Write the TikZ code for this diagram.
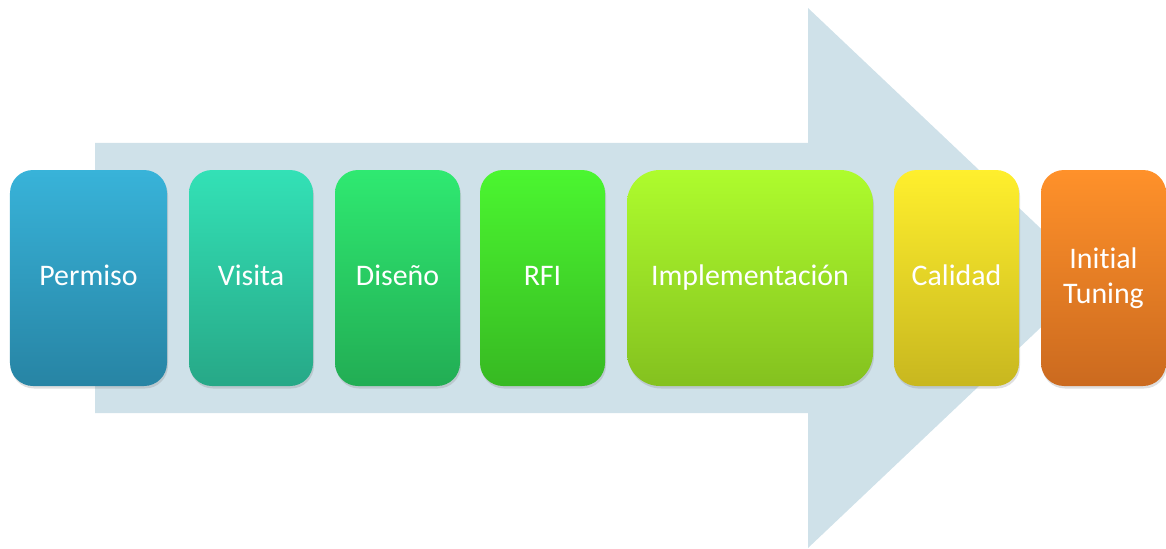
\documentclass[tikz,border=0pt]{standalone}
\usepackage{fontspec}
\setmainfont{Carlito}[Ligatures=NoCommon]
\usepackage{tikz}
\usetikzlibrary{shadows, positioning}
\definecolor{arrowbg}{HTML}{CFE1E9}
\definecolor{permtop}{HTML}{38B3D9}
\definecolor{permbot}{HTML}{2784A4}
\definecolor{vistop}{HTML}{33E1B6}
\definecolor{visbot}{HTML}{27A887}
\definecolor{distop}{HTML}{2FE971}
\definecolor{disbot}{HTML}{22AD54}
\definecolor{rfitop}{HTML}{4BF630}
\definecolor{rfibot}{HTML}{37B922}
\definecolor{imptop}{HTML}{AEFC2D}
\definecolor{impbot}{HTML}{84C11F}
\definecolor{caltop}{HTML}{FFEF2D}
\definecolor{calbot}{HTML}{C8B71F}
\definecolor{tuntop}{HTML}{FF912A}
\definecolor{tunbot}{HTML}{CB6A1F}
\tikzstyle{stage} = [rectangle, rounded corners=0.46cm, minimum width=2.5cm, minimum height=4.32cm, inner sep=0pt, outer sep=0pt, text centered, text=white, font=\fontsize{17}{20}\selectfont, align=center, drop shadow={opacity=0.25, shadow xshift=0.02cm, shadow yshift=-0.05cm}]
\tikzstyle{oneline} = [text height=2.2ex, text depth=0.3ex]

\begin{document}
\begin{tikzpicture}[node distance=0.44cm]
\useasboundingbox (0,0) rectangle (23.32,10.96);
% big arrow behind the stages
\fill [arrowbg] (1.9,2.7) -- (1.9,8.1) -- (16.16,8.1) -- (16.16,10.8) -- (21.86,5.4) -- (16.16,0) -- (16.16,2.7) -- cycle;

\node (perm) [stage, oneline, minimum width=3.14cm, anchor=west, top color=permtop, bottom color=permbot] at (0.2,5.4) {Permiso};
\node (vis) [stage, oneline, minimum width=2.48cm, right=of perm, top color=vistop, bottom color=visbot] {Visita};
\node (dis) [stage, oneline, right=of vis, top color=distop, bottom color=disbot] {Diseño};
\node (rfi) [stage, oneline, right=0.4cm of dis, top color=rfitop, bottom color=rfibot] {RFI};
\node (impl) [stage, oneline, right=of rfi, minimum width=4.92cm, rounded corners=0.66cm, top color=imptop, bottom color=impbot] {Implementación};
\node (cal) [stage, oneline, right=0.42cm of impl, top color=caltop, bottom color=calbot] {Calidad};
\node (tun) [stage, right=of cal, top color=tuntop, bottom color=tunbot] {Initial\\Tuning};
\end{tikzpicture}
\end{document}
